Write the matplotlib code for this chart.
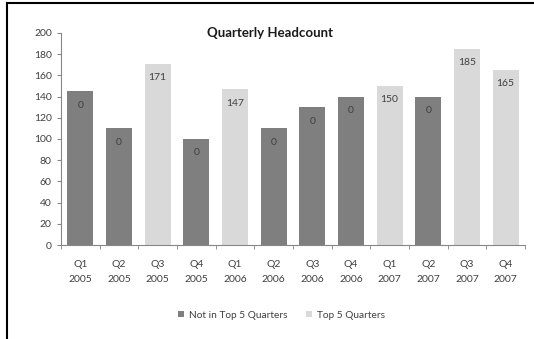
import matplotlib
matplotlib.use("Agg")
import matplotlib.pyplot as plt
from matplotlib.lines import Line2D

plt.rcParams['font.family'] = ['Lato', 'DejaVu Sans']

quarters = ["Q1\n2005", "Q2\n2005", "Q3\n2005", "Q4\n2005", "Q1\n2006", "Q2\n2006",
            "Q3\n2006", "Q4\n2006", "Q1\n2007", "Q2\n2007", "Q3\n2007", "Q4\n2007"]
not_top5 = [145, 110, 0, 100, 0, 110, 130, 140, 0, 140, 0, 0]
top5 = [0, 0, 171, 0, 147, 0, 0, 0, 150, 0, 185, 165]

dark = "#7f7f7f"
light = "#d9d9d9"
axis_col = "#868686"

fig = plt.figure(figsize=(5.34, 3.39), dpi=100)
ax = fig.add_axes([0.114, 0.277, 0.869, 0.626])

x = list(range(len(quarters)))
ax.bar(x, not_top5, width=0.67, color=dark, label="Not in Top 5 Quarters")
ax.bar(x, top5, width=0.67, bottom=not_top5, color=light, label="Top 5 Quarters")

for i, (a, b) in enumerate(zip(not_top5, top5)):
    ax.annotate(str(b), (i, a + b), xytext=(0, -10), textcoords="offset points",
                ha="center", va="center", fontsize=7.5, color="#404040")

ax.set_xlim(-0.5, len(quarters) - 0.5)
ax.set_ylim(0, 200)
ax.set_yticks(range(0, 201, 20))
ax.tick_params(axis="y", labelsize=7.5, colors="#404040", length=3, color=axis_col)
ax.set_xticks(x)
ax.set_xticklabels(quarters, fontsize=7.5, color="#404040", linespacing=1.75)
ax.tick_params(axis="x", length=0, pad=11)
ax.set_xticks([i + 0.5 for i in range(-1, len(quarters))], minor=True)
ax.tick_params(axis="x", which="minor", length=3, color=axis_col)
for s in ["top", "right"]:
    ax.spines[s].set_visible(False)
for s in ["left", "bottom"]:
    ax.spines[s].set_color(axis_col)
    ax.spines[s].set_linewidth(0.8)

fig.text(0.505, 0.902, "Quarterly Headcount", ha="center", va="center",
         fontsize=9.5, fontweight="bold", color="#1a1a1a")

ax.legend(loc="center", bbox_to_anchor=(0.476, -0.33), ncol=2, frameon=False,
          fontsize=7.3, handlelength=0.6, handleheight=0.6, columnspacing=1.8,
          handletextpad=0.5, labelcolor="#404040")

# screenshot frame at top and left
fig.add_artist(Line2D([7 / 534, 1], [1 - 3 / 339, 1 - 3 / 339], color="black", lw=1.5,
                      transform=fig.transFigure))
fig.add_artist(Line2D([7 / 534, 7 / 534], [0, 1 - 3 / 339], color="black", lw=1.5,
                      transform=fig.transFigure))

fig.savefig("out.png", dpi=100)
